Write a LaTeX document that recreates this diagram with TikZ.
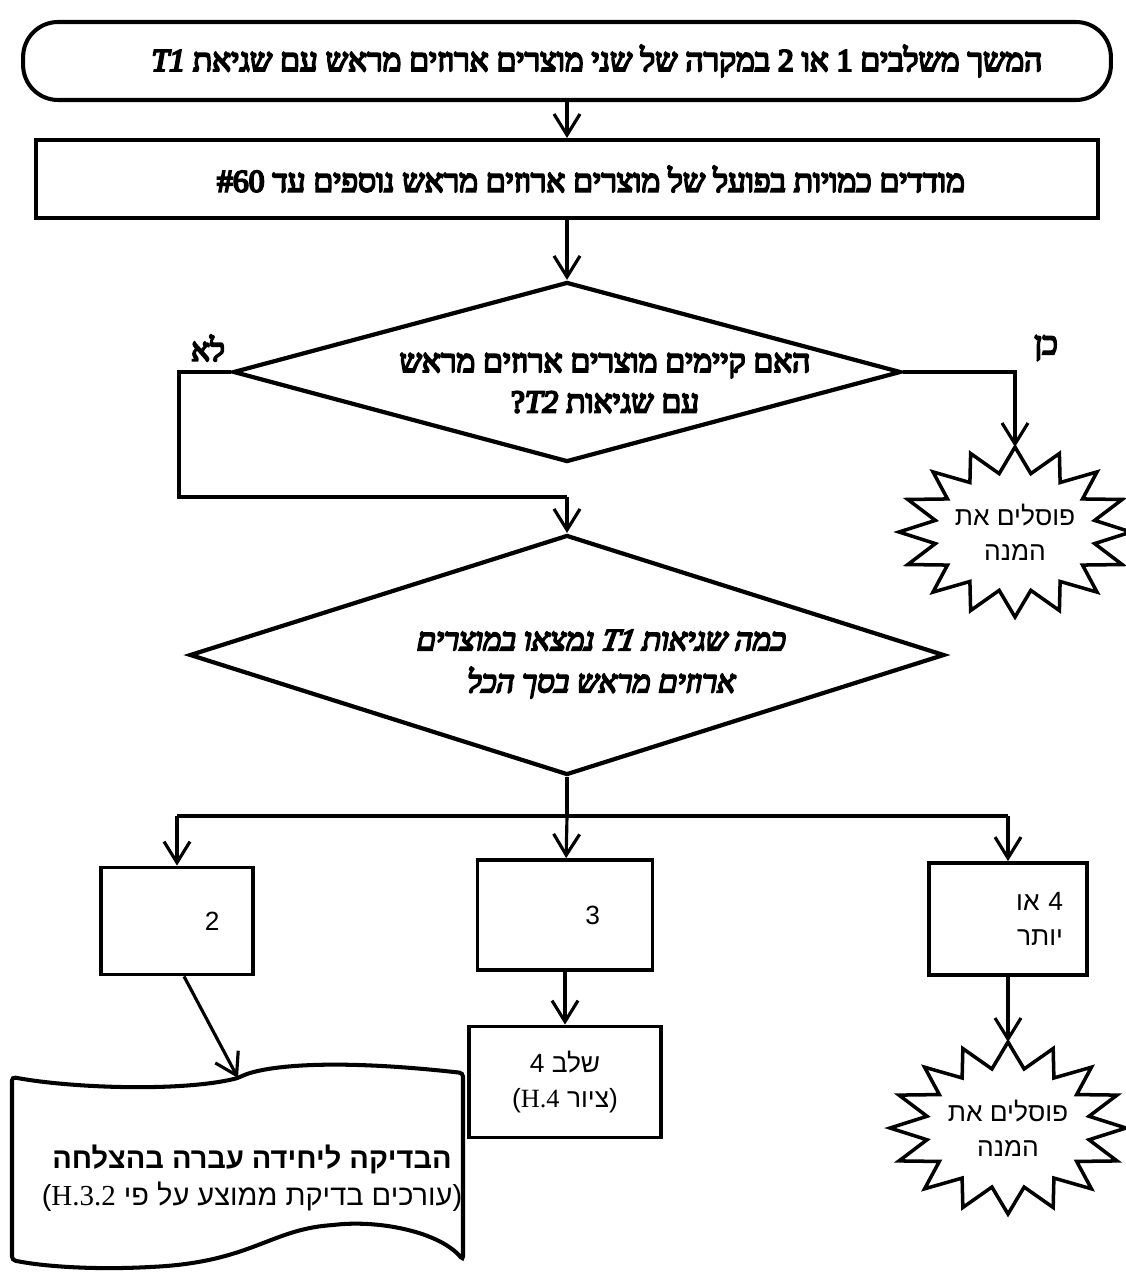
\documentclass[tikz,border=0pt]{standalone}
\usepackage{fontspec}
\setmainfont{Liberation Serif}
\newfontfamily\hebserif[Script=Hebrew,FakeBold=6]{Liberation Serif}
\newfontfamily\hebslant[Script=Hebrew,FakeBold=6,FakeSlant=0.18]{Liberation Serif}
\newfontfamily\hebsans[Script=Hebrew]{Liberation Sans}
\TeXXeTstate=1
\usepackage{tikz}
\usetikzlibrary{arrows.meta}
\usetikzlibrary{positioning}
\usetikzlibrary{shapes.geometric}
\tikzset{
    flow/.style = {draw, line width=2.3pt, inner sep=0pt},
    term/.style = {flow, rounded corners=0.7cm},
    decision/.style = {diamond, draw, line width=2.4pt, inner sep=0pt},
    choice/.style = {draw, line width=2.2pt, inner sep=0pt},
    burstline/.style = {line width=2pt, line join=miter},
    link/.style = {line width=1.8pt},
    arrow/.style = {link, -{Straight Barb[length=0.42cm, width=0.52cm]}},
    boldtext/.style = {font=\hebserif\fontsize{18}{23}\selectfont},
    slanttext/.style = {font=\hebslant\fontsize{17.5}{24}\selectfont},
    softtext/.style = {font=\hebsans\fontsize{15}{20}\selectfont},
    doctext/.style = {font=\hebsans\fontsize{16.5}{21}\selectfont},
}

\begin{document}
\begin{tikzpicture}[x=0.02cm, y=-0.02cm]
    \useasboundingbox (0,0) rectangle (1125,1277);
    \node[term, boldtext, minimum width=21.76cm, minimum height=1.56cm] (start) at (567,61)
        {\hspace{1.2cm}\beginR המשך משלבים 1 או 2 במקרה של שני מוצרים ארוזים מראש עם שגיאת \beginL\textit{T1}\endL\endR};
    \node[flow, boldtext, minimum width=21.24cm, minimum height=1.56cm] (measure) at (567,179)
        {\hspace{0.96cm}\beginR מודדים כמויות בפועל של מוצרים ארוזים מראש נוספים עד \beginL\#60\endL\endR};
    \node[decision, minimum width=13.36cm, minimum height=3.6cm] (hasT2) at (567,372) {};
    \node[boldtext, align=center] (hasT2text) at (605,383)
        {\beginR האם קיימים מוצרים ארוזים מראש\endR\\
         \beginR עם שגיאות \beginL\textit{T2}\endL?\endR};
    \node[boldtext] (no) at (208,348) {\beginR לא\endR};
    \node[boldtext] (yes) at (1046,348) {\beginR כן\endR};
    \node[softtext, align=center] (reject1) at (1015,532)
        {\beginR פוסלים את\endR\\ \beginR המנה\endR};
    \node[decision, minimum width=15.1cm, minimum height=4.8cm] (howmany) at (567,655) {};
    \node[slanttext, align=center] (howmanytext) at (600,664)
        {\beginR כמה שגיאות \beginL\textit{T1}\endL{} נמצאו במוצרים\endR\\
         \beginR ארוזים מראש בסך הכל\endR};
    \node[choice, softtext, minimum width=3.04cm, minimum height=2.14cm, text width=1.7cm, align=right] (two) at (177,921) {2};
    \node[choice, softtext, minimum width=3.5cm, minimum height=2.2cm, text width=1.4cm, align=right] (three) at (565,915) {3};
    \node[choice, softtext, minimum width=3.16cm, minimum height=2.24cm, text width=2.2cm, align=right] (more) at (1008,919)
        {\beginR 4 או\endR\\ \beginR יותר\endR};
    \node[choice, softtext, minimum width=3.84cm, minimum height=2.22cm, align=center] (stage4) at (565,1082)
        {\beginR שלב 4\endR\\ \beginR(ציור \beginL{\rmfamily H.4}\endL)\endR};
    \node[softtext, align=center] (reject2) at (1008,1128)
        {\beginR פוסלים את\endR\\ \beginR המנה\endR};
    \node[doctext, align=center] (passed) at (252,1178)
        {\beginR\bfseries הבדיקה ליחידה עברה בהצלחה\endR\\
         \beginR(עורכים בדיקת ממוצע על פי \beginL{\rmfamily H.3.2}\endL)\endR};

    % starbursts
    \foreach \c/\rx/\ry in {reject1/116/85, reject2/118/86} {
        \draw[burstline, shift={(\c)}] (0:{\rx} and {\ry})
            \foreach \k in {1,...,31} {
                -- ({\k*11.25}:{(0.85+0.15*cos(180*\k))*\rx} and {(0.85+0.15*cos(180*\k))*\ry})
            } -- cycle;
    }
    % document shape
    \coordinate (doctop) at (238,1078);
    \draw[line width=2.3pt, rounded corners=2pt] (12,1077) .. controls (70,1088) and (180,1092) .. (doctop)
        .. controls (262,1066) and (330,1058) .. (463,1073) -- (463,1260)
        .. controls (440,1232) and (380,1220) .. (333,1225)
        .. controls (270,1230) and (250,1262) .. (150,1267)
        .. controls (90,1270) and (40,1266) .. (12,1260) -- cycle;

    % connectors
    \coordinate (nomerge) at (567,497);
    \coordinate (fork) at (567,816);
    \coordinate (reject1top) at (1015,447);
    \coordinate (reject2top) at (1008,1042);
    \draw[arrow] (start) -- (measure);
    \draw[arrow] (measure) -- (hasT2);
    \draw[link] (hasT2.west) -- ++(-52,0) |- (nomerge);
    \draw[arrow] (nomerge) -- (howmany);
    \draw[arrow] (hasT2.east) -| (reject1top);
    \draw[link] (howmany) -- (fork);
    \draw[link] (two.north |- fork) -- (more.north |- fork);
    \draw[arrow] (two.north |- fork) -- (two);
    \draw[arrow] (fork) -- (three);
    \draw[arrow] (more.north |- fork) -- (more);
    \draw[arrow] (three) -- (stage4);
    \draw[arrow] (more) -- (reject2top);
    \draw[arrow] ([xshift=4pt]two.south) -- (doctop);
\end{tikzpicture}
\end{document}
